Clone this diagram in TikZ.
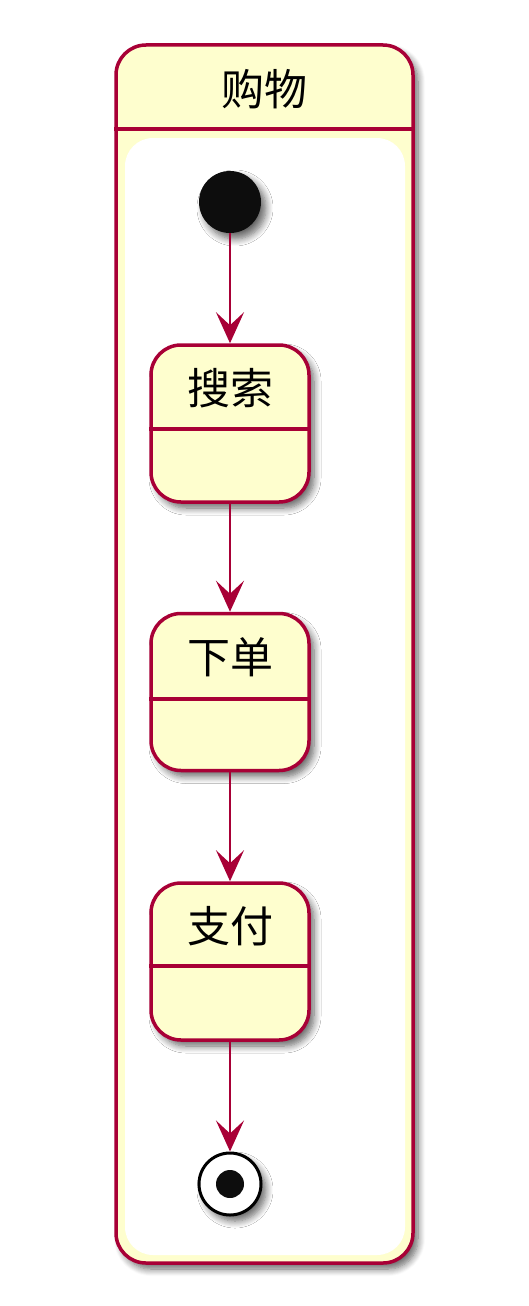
\documentclass[tikz,border=0pt]{standalone}
\usepackage{fontspec}
\newfontfamily\cjk{Noto Sans CJK SC}
\usetikzlibrary{arrows.meta,shadows.blur,calc}
\definecolor{umlred}{HTML}{A80036}
\definecolor{umlfill}{HTML}{FEFECE}
\definecolor{dot}{HTML}{0D0D0D}
\tikzset{
  shade/.style={blur shadow={shadow xshift=5pt,shadow yshift=-6pt,shadow blur radius=7pt,shadow blur steps=8,shadow opacity=60}},
  stbox/.style={draw=umlred,line width=3.5pt,fill=umlfill,rounded corners=30pt,
    minimum width=158pt,minimum height=157pt,inner sep=0pt,shade},
  lbl/.style={font=\cjk\fontsize{43}{43}\selectfont,inner sep=0pt},
  flow/.style={draw=umlred,line width=2.2pt,-{Stealth[length=31pt,width=28pt,inset=13pt]}},
}
\begin{document}
\begin{tikzpicture}[x=1pt,y=-1pt]
\useasboundingbox (0,0) rectangle (528,1306);
% composite state
\node[draw=umlred,line width=3.5pt,fill=umlfill,rounded corners=30pt,
  minimum width=297pt,minimum height=1218pt,inner sep=0pt,shade] (comp) at (264.5,654) {};
\draw[umlred,line width=3.5pt] (comp.west |- 0,129) -- (comp.east |- 0,129);
\fill[white,rounded corners=28pt] (125,138) rectangle (405,1255);
\node[lbl] (title) at (264.5,89) {购物};
% start
\node[circle,fill=dot,minimum size=62pt,inner sep=0pt,shade] (start) at (230,202) {};
% states
\node[stbox] (s1) at (230,423.5) {};
\node[stbox] (s2) at (230,692) {};
\node[stbox] (s3) at (230,961.5) {};
\draw[umlred,line width=3.5pt] (s1.west |- 0,429) -- (s1.east |- 0,429);
\draw[umlred,line width=3.5pt] (s2.west |- 0,699) -- (s2.east |- 0,699);
\draw[umlred,line width=3.5pt] (s3.west |- 0,966) -- (s3.east |- 0,966);
\node[lbl] (t1) at (230,388) {搜索};
\node[lbl] (t2) at (230,657) {下单};
\node[lbl] (t3) at (230,926) {支付};
% end
\node[circle,draw=black,line width=3pt,fill=white,minimum size=62pt,inner sep=0pt,shade] (end) at (230,1184) {};
\node[circle,fill=dot,minimum size=28pt,inner sep=0pt] (endin) at (end) {};
% transitions
\draw[flow] (start) -- (s1);
\draw[flow] (s1) -- (s2);
\draw[flow] (s2) -- (s3);
\draw[flow] (s3) -- (end);
\end{tikzpicture}
\end{document}
